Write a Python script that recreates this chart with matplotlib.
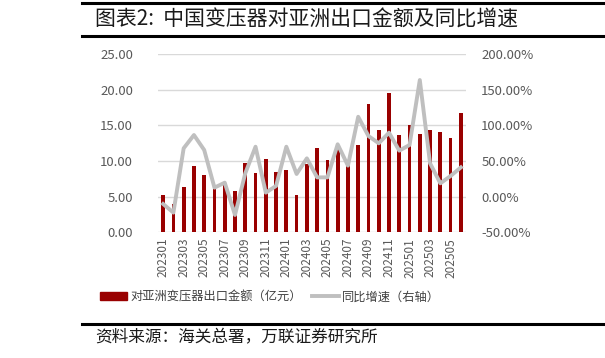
import matplotlib
matplotlib.use("Agg")
import matplotlib.pyplot as plt
from matplotlib.lines import Line2D
from matplotlib.patches import Patch
from matplotlib.ticker import FuncFormatter

plt.rcParams['font.family'] = ['Noto Sans CJK SC', 'DejaVu Sans']

# months 202301 .. 202506
months = ["2023%02d" % m for m in range(1, 13)] + ["2024%02d" % m for m in range(1, 13)] + ["2025%02d" % m for m in range(1, 7)]

# export value to Asia (100 million yuan)
export_amt = [5.2, 4.0, 6.4, 9.35, 8.0, 6.3, 6.7, 5.84, 9.67, 8.27, 10.28, 8.4,
              8.8, 5.28, 9.63, 11.8, 10.1, 11.7, 9.44, 12.3, 18.0, 14.4, 19.5, 13.6,
              15.0, 13.8, 14.35, 14.0, 13.2, 16.7]

# YoY growth (%)
yoy = [-10.3, -22.4, 67.8, 86.4, 65.4, 12.6, 19.6, -25.7, 32.7, 70.0, 5.6, 15.0,
       70.0, 31.8, 53.7, 27.0, 27.0, 73.4, 43.5, 112.0, 85.0, 74.8, 89.7, 64.5,
       72.4, 163.5, 46.7, 18.7, 29.0, 41.0]

bar_color = "#990000"
line_color = "#BFBFBF"
tick_color = "#595959"

fig = plt.figure(figsize=(6.05, 3.58), dpi=100)
ax = fig.add_axes([158 / 605, 1 - 232.3 / 358, 308 / 605, 178.3 / 358])
x = list(range(len(months)))

ax.bar(x, export_amt, width=0.36, color=bar_color, zorder=2)
ax.set_ylim(0, 25)
ax.set_yticks([0, 5, 10, 15, 20, 25])
ax.yaxis.set_major_formatter(FuncFormatter(lambda v, p: "%.2f" % v))
ax.set_xlim(-0.5, len(months) - 0.5)
ax.set_xticks(x[::2])
ax.set_xticklabels(months[::2], rotation=90, fontsize=8.5, color=tick_color)
ax.grid(axis="y", color="#D9D9D9", linewidth=1, zorder=0)
ax.set_axisbelow(True)
ax.tick_params(axis="y", length=0, pad=18, labelsize=9.5, labelcolor=tick_color)
ax.tick_params(axis="x", length=0, pad=4)
for s in ax.spines.values():
    s.set_visible(False)

ax2 = ax.twinx()
ax2.plot(x, yoy, color=line_color, linewidth=2.8, zorder=3)
ax2.set_ylim(-50, 200)
ax2.set_yticks([-50, 0, 50, 100, 150, 200])
ax2.yaxis.set_major_formatter(FuncFormatter(lambda v, p: "%.2f%%" % v))
ax2.tick_params(axis="y", length=0, pad=11, labelsize=9.5, labelcolor=tick_color)
for s in ax2.spines.values():
    s.set_visible(False)

# title and rules
for yy in (3, 36, 323.5):
    fig.add_artist(Line2D([82 / 605, 590 / 605], [1 - yy / 358] * 2, color="black", linewidth=2.2))
    fig.add_artist(Line2D([593 / 605, 1], [1 - yy / 358] * 2, color="black", linewidth=2.2))
fig.text(95 / 605, 1 - 19.5 / 358, "图表2:  中国变压器对亚洲出口金额及同比增速", fontsize=15,
         va="center", ha="left", color="#1a1a1a")

# legend
handles = [Patch(color=bar_color), Line2D([0], [0], color=line_color, linewidth=2.8)]
labels = ["对亚洲变压器出口金额（亿元）", "同比增速（右轴）"]
fig.legend(handles, labels, loc="center", bbox_to_anchor=(270 / 605, 1 - 297 / 358), ncol=2,
           frameon=False, fontsize=8.8, handlelength=2.2, handleheight=0.6,
           handletextpad=0.3, columnspacing=0.8, labelcolor="#404040")

# source
fig.text(95 / 605, 1 - 338 / 358, "资料来源：海关总署，万联证券研究所", fontsize=12,
         va="center", ha="left", style="italic", color="#1a1a1a")

fig.savefig("out.png", dpi=100)
